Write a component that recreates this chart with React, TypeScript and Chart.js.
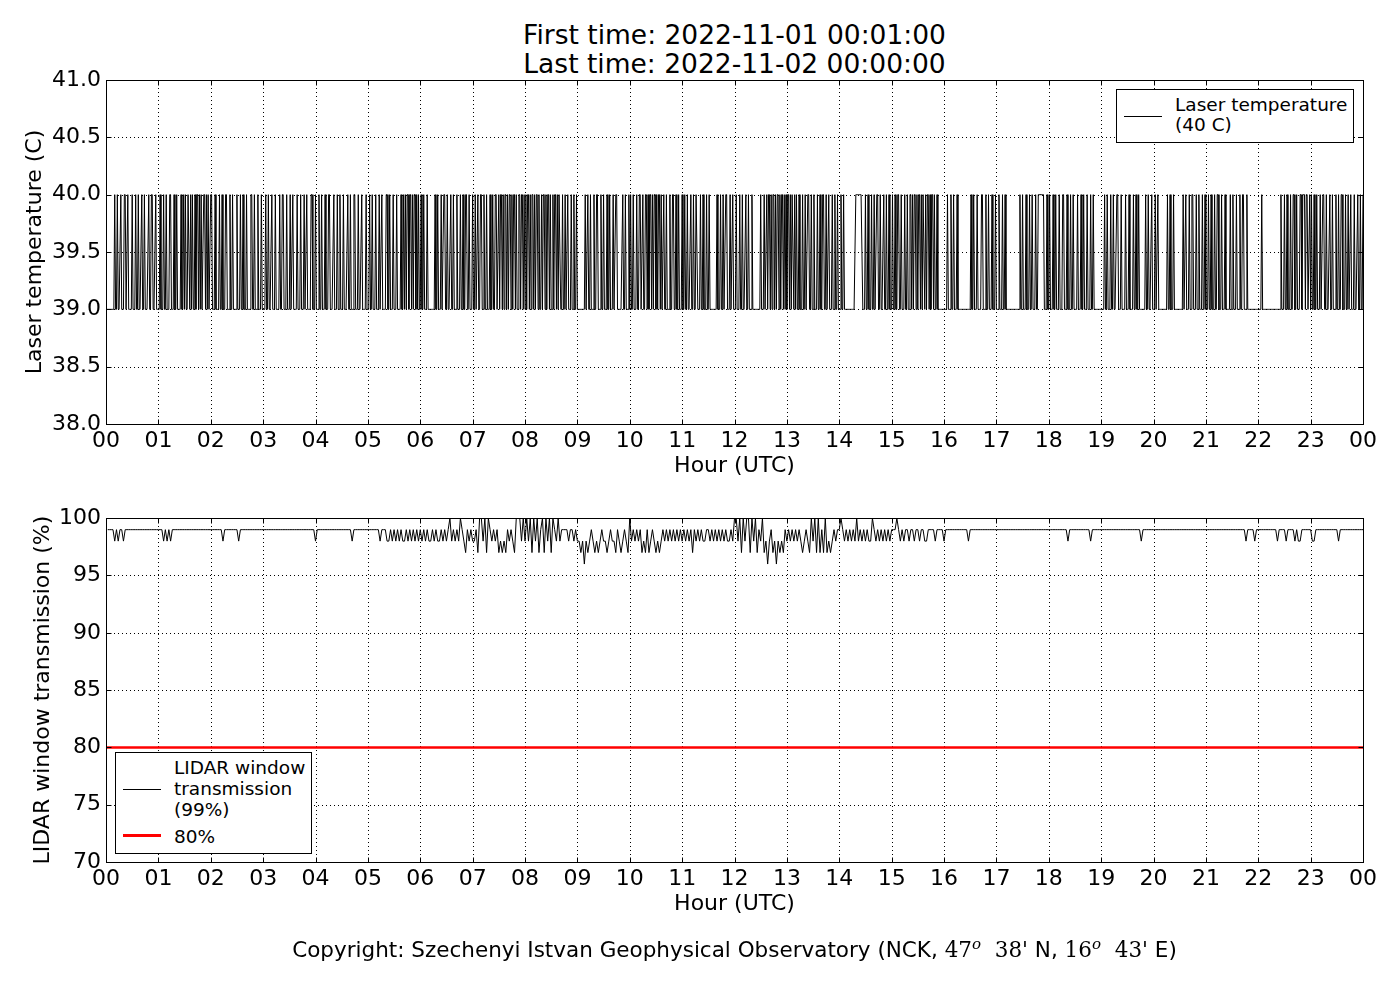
import { useEffect, useRef } from "react";
import { Chart, registerables } from "chart.js";

Chart.register(...registerables);

// x axis labels, one per hour 00..24
const hourLabels = ["00", "01", "02", "03", "04", "05", "06", "07", "08", "09", "10", "11", "12",
  "13", "14", "15", "16", "17", "18", "19", "20", "21", "22", "23", "00"];

// laser temperature, one row per hour, one char per minute: "1" = 40 C, "0" = 39 C
const tempRows = [
  "000000000100100010001100100001000100100010010000100110001000",
  "010001001000110001001000010010100110101001011010100110101001",
  "100010000100100011000100100001000100100010000110010001000100",
  "001001000100010000100110001000100100001000100010010000110001",
  "000100100010001100001000100100010000100100011000100010000100",
  "010010001000100100001100100010001000010010101101101011010100",
  "100100010000000010010001001100100010010001000100100110010001",
  "001001001100100100010010011001011010110101101011010011011010",
  "101101011010110100101101011010010110101100100100100010010010",
  "000000001001001000100110001001000100100010011000000100100010",
  "100100010011001001101011010110101101001001000100110010010001",
  "001001000100100110001001000100100000000100010010011000100100",
  "010001001000100100010000000001000100101101011010110101101010",
  "110101101010010001001001100100100010010011001001000100100100",
  "010010000000000000111111110001001000100100110010001001001000",
  "100100110010001001001101011010110101101011010110100100000000",
  "000100010010001000000000000000100100010000110001001000100010",
  "001000100100000000000000001001000100010010001001111111000100",
  "100010010001000110001000100100001000100100010001001000000000",
  "000100100010010001100010000100010000100100100000001001000100",
  "010010000000000100100010000000000100100010011000100100010010",
  "001001000100110001000100000100100010001001100010000000000000",
  "000100000000000000000000010001001000100110010001101110110010",
  "100100100010011001000100100010010011000100100100010001001001",
];

// window transmission, one row per hour, one char per two minutes: value = 100 - digit
const transRows = [
  "111121211211111111111111111111",
  "112121211111111111111111111111",
  "111111211111111211111111111111",
  "111111111111111111111111111112",
  "111111111111111111112111111111",
  "111111211122121212122121212121",
  "212122121221212102121201231212",
  "213002030121213232312123000202",
  "020302031030203012021111211212",
  "232423212323212232122312321230",
  "212121323132123232121212121212",
  "121213121212211212121212122120",
  "020302003020312032421324232312",
  "121212123212302030313032321211",
  "012121212021212122012121212121",
  "110121211211211211221111211112",
  "111111111111121111111111111111",
  "111111111111111111111111111111",
  "111111111121111111111112111111",
  "111111111111111111111121111111",
  "111111111111111111111111111111",
  "111111111111111111111121111211",
  "111111111121111211112122111111",
  "221111111111111211111111111111",
];

const limitHours = [0, 24];
const limitValues = [80, 80];

const tempPoints = tempRows.flatMap((row, h) =>
  row.split("").map((c, i) => ({ x: h + (i + 1) / row.length, y: c === "1" ? 40 : 39 }))
);
const transPoints = transRows.flatMap((row, h) =>
  row.split("").map((c, i) => ({ x: h + (i + 1) / row.length, y: 100 - Number(c) }))
);
const limitPoints = limitHours.map((x, i) => ({ x, y: limitValues[i] }));

const FONT = "'DejaVu Sans', sans-serif";

// matplotlib classic look: dotted grid, black frame, ticks pointing inwards
const framePlugin = {
  id: "frame",
  beforeDatasetsDraw(chart: any) {
    const { ctx, chartArea: a, scales } = chart;
    const l = Math.round(a.left), r = Math.round(a.right), t = Math.round(a.top), b = Math.round(a.bottom);
    ctx.save();
    ctx.strokeStyle = "#000";
    ctx.lineWidth = 1;
    ctx.setLineDash([1, 3]);
    ctx.beginPath();
    scales.x.ticks.forEach((tk: any) => {
      const px = Math.round(scales.x.getPixelForValue(tk.value)) + 0.5;
      if (px <= l + 1 || px >= r - 1) return;
      ctx.moveTo(px, t);
      ctx.lineTo(px, b);
    });
    scales.y.ticks.forEach((tk: any) => {
      const py = Math.round(scales.y.getPixelForValue(tk.value)) + 0.5;
      if (py <= t + 1 || py >= b - 1) return;
      ctx.moveTo(l, py);
      ctx.lineTo(r, py);
    });
    ctx.stroke();
    ctx.restore();
  },
  afterDatasetsDraw(chart: any) {
    const { ctx, chartArea: a, scales } = chart;
    const l = Math.round(a.left) + 0.5, r = Math.round(a.right) + 0.5;
    const t = Math.round(a.top) + 0.5, b = Math.round(a.bottom) + 0.5;
    const len = 5;
    ctx.save();
    ctx.strokeStyle = "#000";
    ctx.lineWidth = 1;
    ctx.beginPath();
    scales.x.ticks.forEach((tk: any) => {
      const px = Math.round(scales.x.getPixelForValue(tk.value)) + 0.5;
      ctx.moveTo(px, b);
      ctx.lineTo(px, b - len);
      ctx.moveTo(px, t);
      ctx.lineTo(px, t + len);
    });
    scales.y.ticks.forEach((tk: any) => {
      const py = Math.round(scales.y.getPixelForValue(tk.value)) + 0.5;
      ctx.moveTo(l, py);
      ctx.lineTo(l + len, py);
      ctx.moveTo(r, py);
      ctx.lineTo(r - len, py);
    });
    ctx.stroke();
    ctx.strokeRect(l, t, r - l, b - t);
    ctx.restore();
  },
};

type PanelProps = {
  top: number;
  height: number;
  areaTop: number;
  areaBottom: number;
  datasets: any[];
  yMin: number;
  yMax: number;
  yStep: number;
  yDigits: number;
  yTitle: string;
  yTitlePad: number;
};

function Panel(p: PanelProps) {
  const canvasRef = useRef<HTMLCanvasElement>(null);
  const chartRef = useRef<Chart | null>(null);

  useEffect(() => {
    if (chartRef.current) chartRef.current.destroy();
    const xHeight = 70;
    chartRef.current = new Chart(canvasRef.current!, {
      type: "line",
      data: { datasets: p.datasets },
      plugins: [framePlugin],
      options: {
        animation: false,
        responsive: false,
        devicePixelRatio: 1,
        parsing: false,
        normalized: true,
        events: [],
        layout: {
          padding: { left: 0, right: 37, top: p.areaTop, bottom: p.height - p.areaBottom - xHeight },
        },
        plugins: { legend: { display: false }, tooltip: { enabled: false }, title: { display: false } },
        elements: { point: { radius: 0 }, line: { tension: 0 } },
        scales: {
          x: {
            type: "linear",
            min: 0,
            max: 24,
            border: { display: false },
            grid: { display: false, drawTicks: false },
            afterFit: (s: any) => { s.height = xHeight; },
            ticks: {
              stepSize: 1,
              autoSkip: false,
              maxRotation: 0,
              padding: 4,
              color: "#000",
              font: { family: FONT, size: 22 },
              callback: (v: any) => hourLabels[v],
            },
            title: {
              display: true,
              text: "Hour (UTC)",
              color: "#000",
              font: { family: FONT, size: 22, lineHeight: 1.2 },
              padding: { top: 0, bottom: 15 },
            },
          },
          y: {
            min: p.yMin,
            max: p.yMax,
            border: { display: false },
            grid: { display: false, drawTicks: false },
            afterFit: (s: any) => { s.width = 106; },
            ticks: {
              stepSize: p.yStep,
              autoSkip: false,
              padding: 5,
              color: "#000",
              font: { family: FONT, size: 22 },
              callback: (v: any) => Number(v).toFixed(p.yDigits),
            },
            title: {
              display: true,
              text: p.yTitle,
              color: "#000",
              font: { family: FONT, size: 22, lineHeight: 1.2 },
              padding: { top: p.yTitlePad, bottom: 0 },
            },
          },
        },
      },
    });
    return () => {
      if (chartRef.current) {
        chartRef.current.destroy();
        chartRef.current = null;
      }
    };
  }, []);

  return (
    <canvas
      ref={canvasRef}
      width={1400}
      height={p.height}
      style={{ position: "absolute", left: 0, top: p.top, width: 1400, height: p.height }}
    />
  );
}

const legendBox: any = {
  position: "absolute",
  border: "1px solid #000",
  background: "#fff",
  boxSizing: "border-box",
  fontFamily: FONT,
  fontSize: 18.5,
  color: "#000",
};

export default function App() {
  useEffect(() => {
    document.body.style.margin = "0";
  }, []);

  const math = { fontFamily: "'DejaVu Serif', serif" };
  const sup = { fontStyle: "italic", fontSize: "0.7em", verticalAlign: "0.55em", lineHeight: 0 } as any;

  return (
    <div style={{ position: "relative", width: 1400, height: 1000, background: "#fff", overflow: "hidden" }}>
      <div
        style={{
          position: "absolute", left: 0, width: 1469, top: 20, textAlign: "center",
          fontFamily: FONT, fontSize: 26.5, lineHeight: "29px", color: "#000",
        }}
      >
        <div>First time: 2022-11-01 00:01:00</div>
        <div>Last time: 2022-11-02 00:00:00</div>
      </div>

      <Panel
        top={0}
        height={500}
        areaTop={80}
        areaBottom={424}
        yMin={38}
        yMax={41}
        yStep={0.5}
        yDigits={1}
        yTitle="Laser temperature (C)"
        yTitlePad={22}
        datasets={[
          { label: "Laser temperature (40 C)", data: tempPoints, borderColor: "#000", borderWidth: 1 },
        ]}
      />
      <Panel
        top={500}
        height={500}
        areaTop={17}
        areaBottom={362}
        yMin={70}
        yMax={100}
        yStep={5}
        yDigits={0}
        yTitle="LIDAR window transmission (%)"
        yTitlePad={30}
        datasets={[
          { label: "80%", data: limitPoints, borderColor: "#ff0000", borderWidth: 2.5 },
          { label: "LIDAR window transmission (99%)", data: transPoints, borderColor: "#000", borderWidth: 1 },
        ]}
      />

      <div style={{ ...legendBox, left: 1116, top: 89, width: 238, height: 54 }}>
        <div style={{ position: "absolute", left: 7, top: 26, width: 38, height: 1, background: "#000" }} />
        <div style={{ position: "absolute", left: 58, top: 5, lineHeight: "20px", whiteSpace: "nowrap" }}>
          Laser temperature<br />(40 C)
        </div>
      </div>

      <div style={{ ...legendBox, left: 115, top: 752, width: 197, height: 102 }}>
        <div style={{ position: "absolute", left: 7, top: 36, width: 38, height: 1, background: "#000" }} />
        <div style={{ position: "absolute", left: 58, top: 4, lineHeight: "21px", whiteSpace: "nowrap" }}>
          LIDAR window<br />transmission<br />(99%)
        </div>
        <div style={{ position: "absolute", left: 7, top: 81, width: 38, height: 3, background: "#ff0000" }} />
        <div style={{ position: "absolute", left: 58, top: 73, lineHeight: "21px" }}>80%</div>
      </div>

      <div
        style={{
          position: "absolute", left: 0, width: 1469, top: 936, textAlign: "center",
          fontFamily: FONT, fontSize: 21.5, lineHeight: "28px", color: "#000", whiteSpace: "nowrap",
        }}
      >
        Copyright: Szechenyi Istvan Geophysical Observatory (NCK, <span style={math}>47<span style={sup}>o</span></span>
        {"\u00a0\u00a0"}<span style={math}>38'</span> N, <span style={math}>16<span style={sup}>o</span></span>
        {"\u00a0\u00a0"}<span style={math}>43'</span> E)
      </div>
    </div>
  );
}
